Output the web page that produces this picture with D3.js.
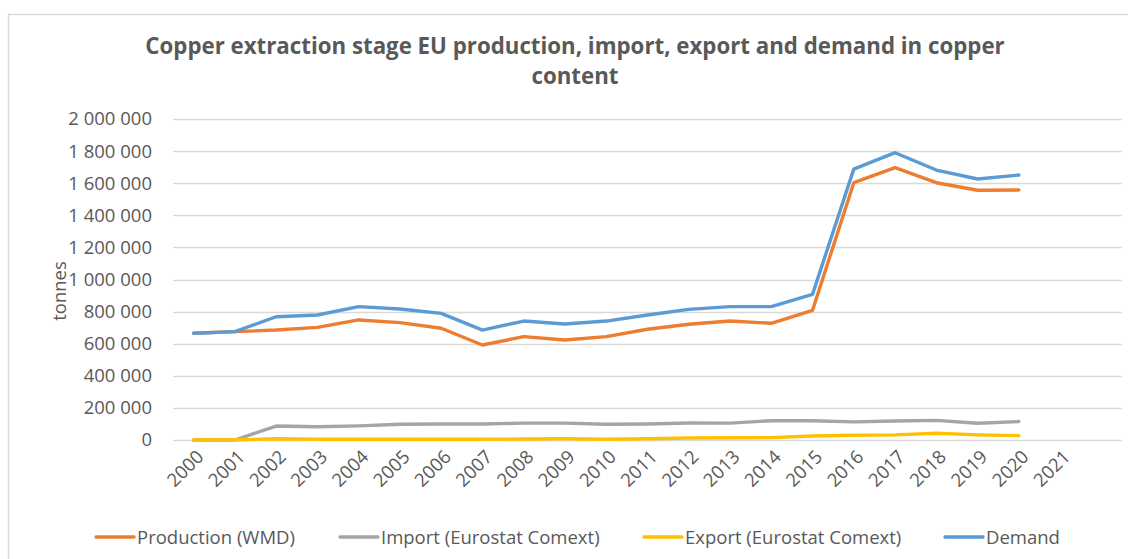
<!DOCTYPE html>
<html>
<head>
<meta charset="utf-8">
<script src="https://cdn.jsdelivr.net/npm/d3@7"></script>
<style>
  body { margin: 0; background: #fff; }
  svg text { font-family: "Open Sans", "Liberation Sans", sans-serif; fill: #595959; }
</style>
</head>
<body>
<svg id="chart" width="1128" height="559"></svg>
<script>
// categories (last slot is an empty category, as in the source chart)
var years = ["2000", "2001", "2002", "2003", "2004", "2005", "2006", "2007", "2008", "2009", "2010",
             "2011", "2012", "2013", "2014", "2015", "2016", "2017", "2018", "2019", "2020", "2021", ""];

var production = [665000, 675000, 685000, 702000, 748000, 731000, 696000, 592000, 644000, 623000, 644000,
                  690000, 721000, 741000, 727000, 808000, 1603000, 1697000, 1603000, 1556000, 1558000];
var imports = [0, 0, 87000, 83000, 88000, 98000, 100000, 100000, 105000, 105000, 98000,
               100000, 106000, 105000, 120000, 120000, 113000, 118000, 122000, 104000, 115000];
var exports = [0, 0, 8000, 5000, 5000, 5000, 5000, 5000, 6000, 8000, 5000,
               8000, 12000, 14000, 15000, 25000, 30000, 32000, 42000, 32000, 27000];
var demand = [665000, 675000, 768000, 779000, 831000, 816000, 789000, 685000, 741000, 723000, 741000,
              779000, 814000, 831000, 831000, 908000, 1688000, 1790000, 1682000, 1626000, 1651000];

var yTicks = [0, 200000, 400000, 600000, 800000, 1000000, 1200000, 1400000, 1600000, 1800000, 2000000];

var series = [
  { name: "Production (WMD)", values: production, color: "#ED7D31" },
  { name: "Import (Eurostat Comext)", values: imports, color: "#A5A5A5" },
  { name: "Export (Eurostat Comext)", values: exports, color: "#FFC000" },
  { name: "Demand", values: demand, color: "#5B9BD5" }
];

var svg = d3.select("#chart");
var margin = { left: 173, right: 1122, top: 119, bottom: 440 };
var fs = 18.5;

// outer chart border (cropped on the right/bottom in the source)
svg.append("path")
  .attr("d", "M8.5,560 V14.5 H1130")
  .attr("fill", "none")
  .attr("stroke", "#D9D9D9")
  .attr("stroke-width", 1.5);

var x = d3.scaleBand().domain(years).range([margin.left, margin.right]);
var y = d3.scaleLinear().domain([0, 2000000]).range([margin.bottom, margin.top]);

// title
var title = svg.append("text")
  .attr("text-anchor", "middle")
  .attr("font-weight", "bold")
  .attr("font-size", 20);
title.append("tspan").attr("x", 575).attr("y", 54)
  .text("Copper extraction stage EU production, import, export and demand in copper");
title.append("tspan").attr("x", 575).attr("y", 84).text("content");
// fit the first line to the source width
var w = title.select("tspan").node().getComputedTextLength();
title.attr("font-size", 20 * 860 / w);

// gridlines
svg.append("g")
  .selectAll("line")
  .data(yTicks)
  .enter().append("line")
  .attr("x1", margin.left)
  .attr("x2", margin.right)
  .attr("y1", function (d) { return Math.round(y(d)) + 0.5; })
  .attr("y2", function (d) { return Math.round(y(d)) + 0.5; })
  .attr("stroke", "#D9D9D9")
  .attr("stroke-width", 1.3);

// y axis labels
var fmt = function (d) { return d3.format(",")(d).replace(/,/g, " "); };
var yAxis = svg.append("g")
  .attr("transform", "translate(152,0)")
  .call(d3.axisLeft(y).tickValues(yTicks).tickFormat(fmt).tickSize(0).tickPadding(0));
yAxis.select(".domain").remove();
yAxis.selectAll("text")
  .attr("font-size", fs)
  .attr("fill", "#595959")
  .style("font-family", "\"Open Sans\", sans-serif");

svg.append("text")
  .attr("transform", "translate(66,291) rotate(-90)")
  .attr("text-anchor", "middle")
  .attr("font-size", fs)
  .text("tonnes");

// x axis labels
var xAxis = svg.append("g")
  .attr("transform", "translate(0," + margin.bottom + ")")
  .call(d3.axisBottom(x).tickSize(0).tickPadding(0));
xAxis.select(".domain").remove();
xAxis.selectAll("text")
  .attr("font-size", fs)
  .attr("fill", "#595959")
  .style("font-family", "\"Open Sans\", sans-serif")
  .attr("text-anchor", "end")
  .attr("dy", null)
  .attr("y", 0)
  .attr("transform", "translate(11,18) rotate(-45)");

// lines
var line = d3.line()
  .x(function (d, i) { return x(years[i]) + x.bandwidth() / 2; })
  .y(function (d) { return y(d); });

svg.append("g")
  .selectAll("path")
  .data(series)
  .enter().append("path")
  .attr("d", function (d) { return line(d.values); })
  .attr("fill", "none")
  .attr("stroke", function (d) { return d.color; })
  .attr("stroke-width", 3.4)
  .attr("stroke-linejoin", "round")
  .attr("stroke-linecap", "round");

// legend
var legendX = [96, 340, 644, 945];
var legend = svg.append("g")
  .selectAll("g")
  .data(series)
  .enter().append("g")
  .attr("transform", function (d, i) { return "translate(" + legendX[i] + ",537)"; });
legend.append("line")
  .attr("x1", 0).attr("x2", 38)
  .attr("stroke", function (d) { return d.color; })
  .attr("stroke-width", 3.4)
  .attr("stroke-linecap", "round");
legend.append("text")
  .attr("x", 41)
  .attr("y", 6.5)
  .attr("font-size", fs)
  .text(function (d) { return d.name; });
</script>
</body>
</html>
